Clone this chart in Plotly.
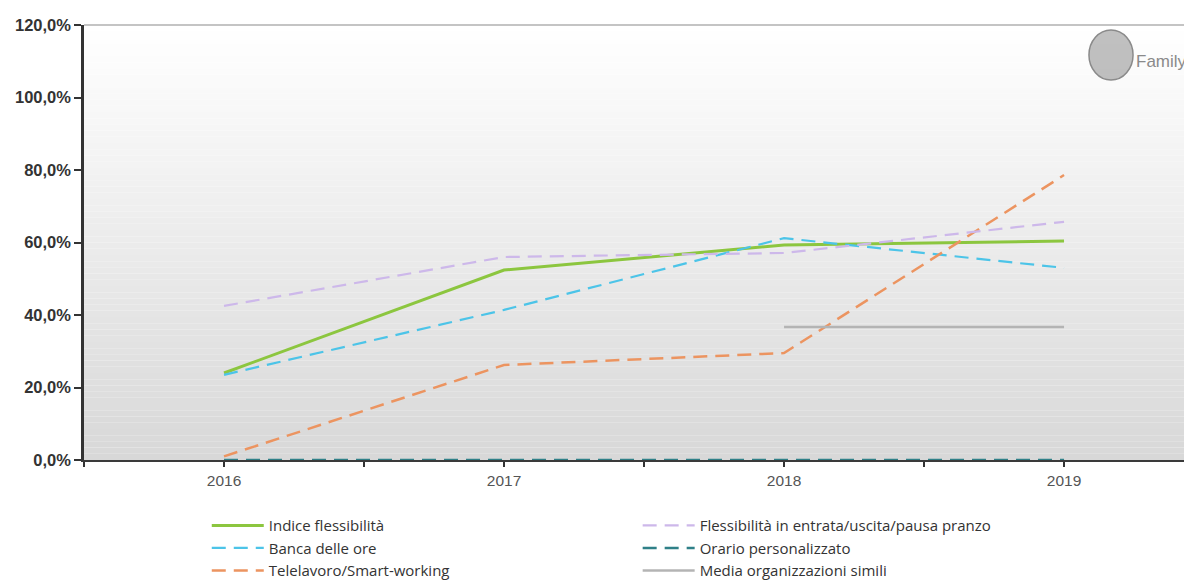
import plotly.graph_objects as go

years = [2016, 2017, 2018, 2019]
indice = [0.24, 0.524, 0.593, 0.604]
flessibilita = [0.425, 0.56, 0.571, 0.657]
banca = [0.235, 0.414, 0.612, 0.53]
orario = [0.0, 0.0, 0.0, 0.0]
telelavoro = [0.01, 0.262, 0.295, 0.786]
media_years = [2018, 2019]
media = [0.367, 0.367]

fig = go.Figure()

# gradient background bands
n = 70
for i in range(n):
    t = i / (n - 1)
    v = int(round(255 - (255 - 216) * t))
    fig.add_shape(type="rect", xref="paper", yref="paper",
                  x0=0, x1=1, y0=1 - (i + 1) / n, y1=1 - i / n,
                  fillcolor=f"rgb({v},{v},{v})", line_width=0, layer="below")

DASH = "14px,8px"
series = [
    ("Indice flessibilità", years, indice, "#8cc63f", "solid", 3, "legend"),
    ("Banca delle ore", years, banca, "#4cc4e8", DASH, 2.2, "legend"),
    ("Telelavoro/Smart-working", years, telelavoro, "#ec9460", DASH, 2.5, "legend"),
    ("Flessibilità in entrata/uscita/pausa pranzo", years, flessibilita, "#cdb8ea", DASH, 2.2, "legend2"),
    ("Orario personalizzato", years, orario, "#2f8088", DASH, 2.5, "legend2"),
    ("Media organizzazioni simili", media_years, media, "#b4b4b4", "solid", 2.5, "legend2"),
]
for name, xs, ys, col, dash, w, lg in series:
    fig.add_trace(go.Scatter(x=xs, y=ys, name=name, mode="lines",
                             line=dict(color=col, dash=dash, width=w),
                             cliponaxis=False, legend=lg))

# top border
fig.add_shape(type="line", xref="paper", yref="paper", x0=0, x1=1, y0=1, y1=1,
              line=dict(color="#c4c4c4", width=2))

# logo
fig.add_shape(type="circle", xref="paper", yref="paper",
              x0=0.9070, x1=0.9468, y0=0.8736, y1=0.9885,
              fillcolor="rgba(140,140,140,0.55)", line=dict(color="#8a8a8a", width=1.5))
fig.add_annotation(xref="paper", yref="paper", x=0.9475, y=0.915, text="Family",
                   showarrow=False, xanchor="left", yanchor="middle",
                   font=dict(family="Liberation Sans", size=17, color="#8a8a8a"))

legend_common = dict(orientation="v", yanchor="top", traceorder="normal",
                     font=dict(family="Open Sans", size=15, color="#333"),
                     bgcolor="rgba(0,0,0,0)", itemwidth=52, tracegroupgap=0)

# page body has an 8px margin, so the figure is 8px smaller than the window
fig.update_layout(
    width=1184, height=576,
    margin=dict(l=76, r=0, t=17, b=124, autoexpand=False),
    paper_bgcolor="white", plot_bgcolor="rgba(0,0,0,0)",
    separators=",.",
    font=dict(family="Liberation Sans", color="#333"),
    xaxis=dict(range=[2015.5, 2019.457], tickmode="linear", tick0=2016, dtick=1,
               ticks="outside", ticklen=5, tickwidth=1.5, tickcolor="#333",
               minor=dict(ticks="outside", dtick=0.5, tick0=2015.5, ticklen=5,
                          tickwidth=1.5, tickcolor="#333"),
               showline=True, linecolor="#3a3a3a", linewidth=2, showgrid=False,
               zeroline=False, layer="below traces",
               tickfont=dict(family="Liberation Sans", size=15.5, color="#555")),
    yaxis=dict(range=[0, 1.2], dtick=0.2, tickformat=".1%", ticks="outside",
               ticklen=7, tickwidth=1.5, tickcolor="#333", showline=True,
               linecolor="#333", linewidth=2.5, showgrid=False, zeroline=False,
               tickfont=dict(family="Liberation Sans", size=16.5, color="#333",
                             weight="bold")),
    legend=dict(x=0.1108, y=-0.113, **legend_common),
    legend2=dict(x=0.4997, y=-0.113, **legend_common),
)

fig.write_html("out.html")
